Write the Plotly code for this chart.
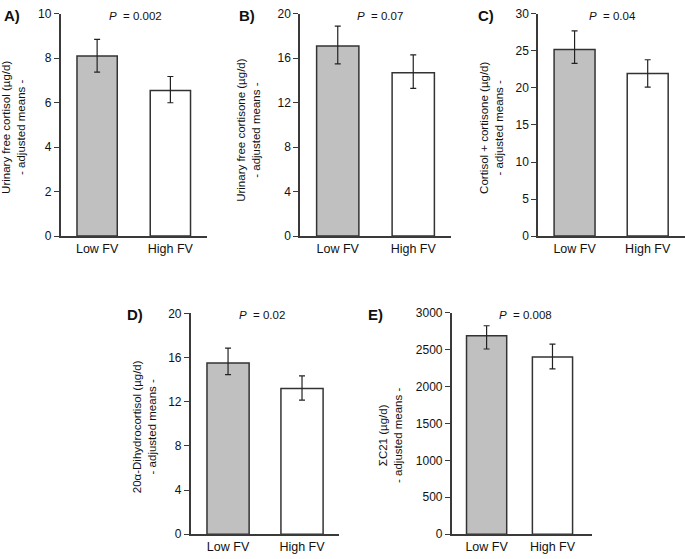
import plotly.graph_objects as go

W, H = 685, 559

categories = ["Low FV", "High FV"]

means_A = [8.1, 6.55]
upper_A = [8.85, 7.18]
lower_A = [7.38, 6.0]

means_B = [17.1, 14.7]
upper_B = [18.9, 16.3]
lower_B = [15.5, 13.3]

means_C = [25.2, 21.95]
upper_C = [27.7, 23.8]
lower_C = [23.3, 20.1]

means_D = [15.5, 13.2]
upper_D = [16.85, 14.35]
lower_D = [14.45, 12.15]

means_E = [2690, 2400]
upper_E = [2825, 2575]
lower_E = [2510, 2240]

ticks_A = [0, 2, 4, 6, 8, 10]
ticks_B = [0, 4, 8, 12, 16, 20]
ticks_C = [0, 5, 10, 15, 20, 25, 30]
ticks_D = [0, 4, 8, 12, 16, 20]
ticks_E = [0, 500, 1000, 1500, 2000, 2500, 3000]

titles = {
    "A": "Urinary free cortisol (µg/d)<br>- adjusted means -",
    "B": "Urinary free cortisone (µg/d)<br>- adjusted means -",
    "C": "Cortisol + cortisone (µg/d)<br>- adjusted means -",
    "D": "20α-Dihydrocortisol (µg/d)<br>- adjusted means -",
    "E": "ΣC21 (µg/d)<br>- adjusted means -",
}
pvals = {"A": "0.002", "B": "0.07", "C": "0.04", "D": "0.02", "E": "0.008"}

FONT = "Liberation Sans, Arial, sans-serif"
AXC = "#3a3a3a"

panels = [
    ("A", means_A, upper_A, lower_A, ticks_A, [0, 10], (60.5, 207, 7, 235), [-0.5, 1.5], 0.55, 14, 124, 135, 12, 9),
    ("B", means_B, upper_B, lower_B, ticks_B, [0, 20], (300, 451, 7, 235), [-0.5, 1.5], 0.56, 249, 126, 380, 247, 9),
    ("C", means_C, upper_C, lower_C, ticks_C, [0, 30], (538, 685, 7, 235), [-0.5, 1.51], 0.56, 492, 124, 612, 486, 9),
    ("D", means_D, upper_D, lower_D, ticks_D, [0, 20], (190.7, 339, 314.3, 540.7), [-0.505, 1.5], 0.57, 144, 431, 262, 135, 315),
    ("E", means_E, upper_E, lower_E, ticks_E, [0, 3000], (451.7, 592, 313.7, 540.7), [-0.53, 1.6], 0.61, 391, 440, 525, 375, 315),
]

fig = go.Figure()
annotations = []
for i, (key, m, up, lo, tk, yr, (x0, x1, y0, y1), xr, bw, tx, ty, px, lx, ly) in enumerate(panels):
    n = i + 1
    xa = "x" if n == 1 else f"x{n}"
    ya = "y" if n == 1 else f"y{n}"
    fig.add_trace(go.Bar(
        x=categories, y=m, xaxis=xa, yaxis=ya, width=bw,
        marker=dict(color=["#c0c0c0", "#ffffff"], line=dict(color="#333333", width=1.5)),
        error_y=dict(type="data", symmetric=False,
                     array=[u - v for u, v in zip(up, m)],
                     arrayminus=[v - l for v, l in zip(m, lo)],
                     color="#222222", thickness=1.2, width=3),
        showlegend=False,
    ))
    xk = "xaxis" if n == 1 else f"xaxis{n}"
    yk = "yaxis" if n == 1 else f"yaxis{n}"
    fig.layout[xk] = dict(domain=[x0 / W, x1 / W], anchor=ya, range=xr, type="category",
                          showline=True, linecolor=AXC, linewidth=1.5, ticks="",
                          showgrid=False, zeroline=False, fixedrange=True,
                          tickfont=dict(family=FONT, size=12.5, color="#111"))
    fig.layout[yk] = dict(domain=[1 - y1 / H, 1 - y0 / H], anchor=xa, range=yr,
                          tickvals=tk, showline=True, linecolor=AXC, linewidth=1.5,
                          ticks="outside", ticklen=5, tickcolor=AXC, tickwidth=1,
                          showgrid=False, zeroline=False, fixedrange=True,
                          tickfont=dict(family=FONT, size=12, color="#111"))
    annotations.append(dict(text=titles[key], x=tx / W, y=1 - ty / H, xref="paper", yref="paper",
                            textangle=-90, showarrow=False, xanchor="center", yanchor="middle",
                            font=dict(family=FONT, size=11.5, color="#111")))
    annotations.append(dict(text=f"<i>P</i>  = {pvals[key]}", x=px / W, y=1 - (y0 + 2) / H,
                            xref="paper", yref="paper", showarrow=False,
                            xanchor="center", yanchor="middle",
                            font=dict(family=FONT, size=11.5, color="#111")))
    annotations.append(dict(text=f"<b>{key})</b>", x=lx / W, y=1 - ly / H,
                            xref="paper", yref="paper", showarrow=False,
                            xanchor="center", yanchor="middle",
                            font=dict(family=FONT, size=15, color="#111")))

fig.update_layout(width=W, height=H, margin=dict(l=0, r=0, t=0, b=0),
                  paper_bgcolor="white", plot_bgcolor="white",
                  annotations=annotations, bargap=0.4)
fig.write_html("out.html")
